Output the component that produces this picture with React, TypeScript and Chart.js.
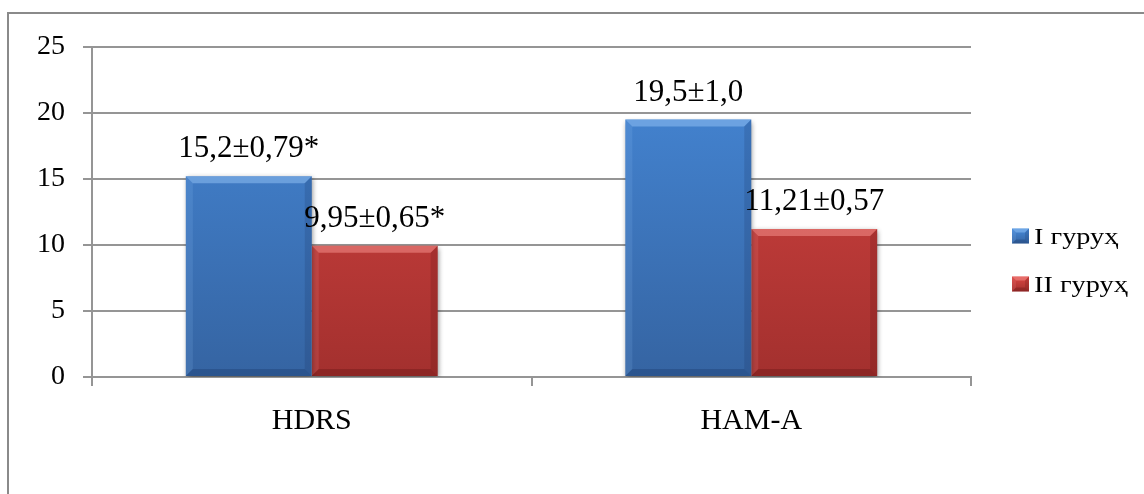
import { useEffect, useRef } from "react";
import { Chart, registerables } from "chart.js";

Chart.register(...registerables);

// Categories and per-group scores
const categories = ["HDRS", "HAM-A"];
const seriesNames = ["I гуруҳ", "II гуруҳ"];
const group1Values = [15.2, 19.5];
const group2Values = [9.95, 11.21];
const group1Labels = ["15,2±0,79*", "19,5±1,0"];
const group2Labels = ["9,95±0,65*", "11,21±0,57"];
const yMin = 0;
const yMax = 25;
const yStep = 5;

const FONT = "Liberation Serif";

const palettes = [
  { top: "#4689d9", bottom: "#3564a2", light: "rgba(150,195,245,0.5)", dark: "rgba(20,45,90,0.3)" },
  { top: "#da4643", bottom: "#a3302e", light: "rgba(250,150,145,0.5)", dark: "rgba(80,10,10,0.3)" },
];

const valueLabels = [group1Labels, group2Labels];

function gradientFor(idx: number) {
  return (ctx: any) => {
    const chart = ctx.chart;
    const area = chart.chartArea;
    const p = palettes[idx];
    if (!area) return p.top;
    const g = chart.ctx.createLinearGradient(0, area.top, 0, area.bottom);
    g.addColorStop(0, p.top);
    g.addColorStop(1, p.bottom);
    return g;
  };
}

// Bevelled edges drawn over a filled rectangle
function bevel(ctx: CanvasRenderingContext2D, l: number, t: number, r: number, b: number, s: number, idx: number) {
  const p = palettes[idx];
  ctx.save();
  ctx.fillStyle = p.light;
  ctx.beginPath();
  ctx.moveTo(l, t);
  ctx.lineTo(r, t);
  ctx.lineTo(r - s, t + s);
  ctx.lineTo(l + s, t + s);
  ctx.closePath();
  ctx.fill();
  ctx.globalAlpha = 0.3;
  ctx.beginPath();
  ctx.moveTo(l, t);
  ctx.lineTo(l + s, t + s);
  ctx.lineTo(l + s, b - s);
  ctx.lineTo(l, b);
  ctx.closePath();
  ctx.fill();
  ctx.globalAlpha = 0.6;
  ctx.fillStyle = p.dark;
  ctx.beginPath();
  ctx.moveTo(r, t);
  ctx.lineTo(r - s, t + s);
  ctx.lineTo(r - s, b - s);
  ctx.lineTo(r, b);
  ctx.closePath();
  ctx.fill();
  ctx.globalAlpha = 0.9;
  ctx.beginPath();
  ctx.moveTo(l, b);
  ctx.lineTo(l + s, b - s);
  ctx.lineTo(r - s, b - s);
  ctx.lineTo(r, b);
  ctx.closePath();
  ctx.fill();
  ctx.restore();
}

const decorPlugin = {
  id: "decor",
  beforeDraw(chart: any) {
    const ctx = chart.ctx as CanvasRenderingContext2D;
    ctx.save();
    ctx.fillStyle = "#ffffff";
    ctx.fillRect(0, 0, chart.width, chart.height);
    ctx.strokeStyle = "#8a8a8a";
    ctx.lineWidth = 2;
    ctx.beginPath();
    ctx.moveTo(8, chart.height);
    ctx.lineTo(8, 13);
    ctx.lineTo(chart.width, 13);
    ctx.stroke();
    ctx.restore();
  },
  beforeDatasetsDraw(chart: any) {
    const ctx = chart.ctx as CanvasRenderingContext2D;
    ctx.save();
    ctx.shadowColor = "rgba(0,0,0,0.45)";
    ctx.shadowBlur = 5;
    ctx.shadowOffsetX = 1;
    ctx.shadowOffsetY = 2;
  },
  afterDatasetsDraw(chart: any) {
    const ctx = chart.ctx as CanvasRenderingContext2D;
    ctx.restore();
    chart.data.datasets.forEach((_ds: any, di: number) => {
      const meta = chart.getDatasetMeta(di);
      meta.data.forEach((el: any, i: number) => {
        const { x, y, base, width } = el.getProps(["x", "y", "base", "width"], true);
        bevel(ctx, x - width / 2, y, x + width / 2, base, 7, di);
        ctx.save();
        ctx.fillStyle = "#000";
        ctx.font = `31px "${FONT}"`;
        ctx.textAlign = "center";
        ctx.textBaseline = "alphabetic";
        ctx.fillText(valueLabels[di][i], x, y - 19);
        ctx.restore();
      });
    });
  },
  afterDraw(chart: any) {
    const ctx = chart.ctx as CanvasRenderingContext2D;
    seriesNames.forEach((name, i) => {
      const cy = 236 + i * 48;
      const bx = 1012;
      const bw = 17;
      const bh = 15;
      const p = palettes[i];
      ctx.save();
      const g = ctx.createLinearGradient(0, cy - bh / 2, 0, cy + bh / 2);
      g.addColorStop(0, p.top);
      g.addColorStop(1, p.bottom);
      ctx.fillStyle = g;
      ctx.fillRect(bx, cy - bh / 2, bw, bh);
      ctx.restore();
      bevel(ctx, bx, cy - bh / 2, bx + bw, cy + bh / 2, 4, i);
      ctx.save();
      ctx.fillStyle = "#000";
      ctx.font = `24px "${FONT}"`;
      ctx.textAlign = "left";
      ctx.textBaseline = "middle";
      ctx.translate(1034, cy + 2);
      ctx.scale(1.18, 1);
      ctx.fillText(name, 0, 0);
      ctx.restore();
    });
  },
};

export default function App() {
  const ref = useRef<HTMLCanvasElement | null>(null);

  useEffect(() => {
    if (!ref.current) return;
    const chart = new Chart(ref.current, {
      type: "bar",
      data: {
        labels: categories,
        datasets: [
          { label: seriesNames[0], data: group1Values, backgroundColor: gradientFor(0), borderWidth: 0 },
          { label: seriesNames[1], data: group2Values, backgroundColor: gradientFor(1), borderWidth: 0 },
        ],
      },
      options: {
        responsive: false,
        animation: false,
        devicePixelRatio: 1,
        layout: { padding: { left: 0, top: 47, right: 173, bottom: 0 } },
        plugins: {
          legend: { display: false },
          tooltip: { enabled: false },
        },
        datasets: {
          bar: { categoryPercentage: 0.573, barPercentage: 1 },
        },
        scales: {
          x: {
            grid: {
              offset: true,
              drawOnChartArea: false,
              drawTicks: true,
              tickLength: 9,
              color: "#959595",
              lineWidth: 2,
            },
            border: { display: true, color: "#959595", width: 2 },
            ticks: { color: "#000", font: { family: `"${FONT}"`, size: 30 }, padding: 17 },
            afterFit: (s: any) => {
              s.height = 117;
            },
          },
          y: {
            min: yMin,
            max: yMax,
            ticks: { stepSize: yStep, color: "#000", font: { family: `"${FONT}"`, size: 28 }, padding: 18 },
            grid: { color: "#959595", lineWidth: 2, tickLength: 9, drawTicks: true },
            border: { display: true, color: "#959595", width: 2 },
            afterFit: (s: any) => {
              s.width = 92;
            },
          },
        },
      },
      plugins: [decorPlugin],
    });
    return () => chart.destroy();
  }, []);

  return (
    <div style={{ position: "fixed", left: 0, top: 0, width: 1144, height: 494 }}>
      <canvas ref={ref} width={1144} height={494} style={{ width: 1144, height: 494, display: "block" }} />
    </div>
  );
}
